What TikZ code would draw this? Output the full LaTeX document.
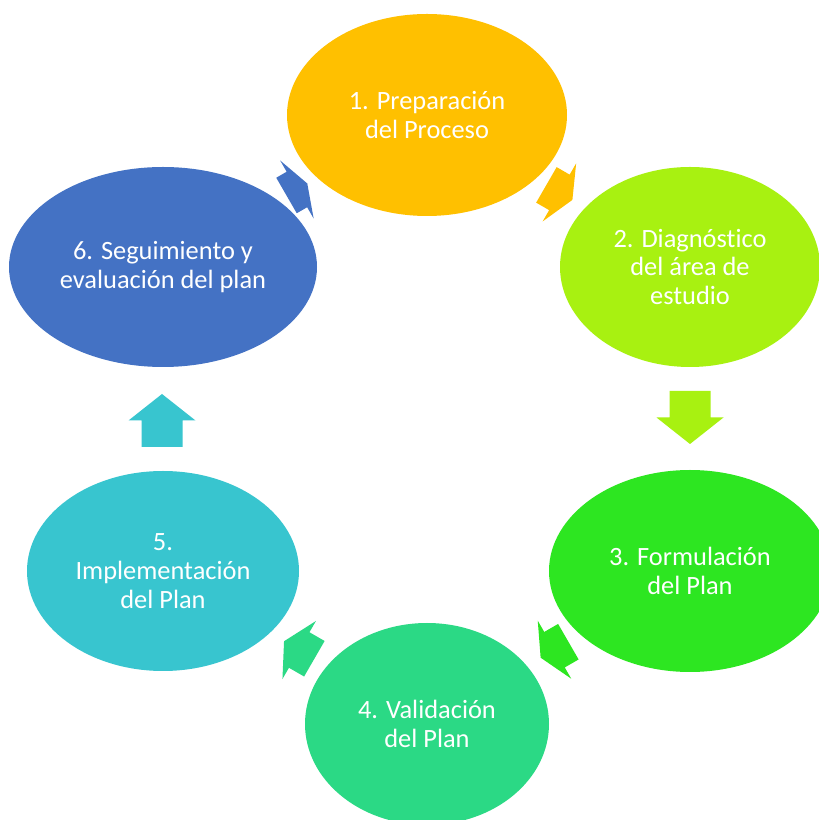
\documentclass[tikz,border=0pt]{standalone}
\usepackage{fontspec}
\setmainfont{Carlito}[Ligatures=NoCommon]
\usetikzlibrary{shapes.geometric}
\definecolor{cA}{HTML}{FFC000}
\definecolor{cB}{HTML}{A8F111}
\definecolor{cC}{HTML}{2DE621}
\definecolor{cD}{HTML}{2BD985}
\definecolor{cE}{HTML}{38C5CF}
\definecolor{cF}{HTML}{4472C4}
\tikzset{
  stage/.style={ellipse, inner sep=0pt, text=white, align=center,
    font=\fontsize{13.2}{14.4}\selectfont},
}
\newcommand\blockarr[5]{%
  \fill[#5, shift={(#1,#2)}, rotate=#3]
    (-#4/2,20.5) -- (0,20.5) -- (0,33.5) -- (#4/2,0) -- (0,-33.5)
    -- (0,-20.5) -- (-#4/2,-20.5) -- cycle;}
\begin{document}
\begin{tikzpicture}[x=0.5pt,y=0.5pt]
\useasboundingbox (0,0) rectangle (819,820);
\fill[white] (0,0) rectangle (819,820);
% ellipses (y = 820 - screen y); size in pt = radius in px
\node[stage, fill=cA, minimum width=140pt, minimum height=101pt] (e1) at (427,705) {1. Preparación\\del Proceso};
\node[stage, fill=cB, minimum width=130pt, minimum height=100pt] (e2) at (690,553) {2. Diagnóstico\\del área de\\estudio};
\node[stage, fill=cC, minimum width=141pt, minimum height=101pt] (e3) at (690,249) {3. Formulación\\del Plan};
\node[stage, fill=cD, minimum width=122pt, minimum height=101pt] (e4) at (427,96) {4. Validación\\del Plan};
\node[stage, fill=cE, minimum width=136pt, minimum height=100pt] (e5) at (163,249) {5.\\Implementación\\del Plan};
\node[stage, fill=cF, minimum width=154pt, minimum height=100pt] (e6) at (163,553) {6. Seguimiento y\\evaluación del plan};
% block arrows
\blockarr{559.4}{627.6}{-30}{30}{cA}
\blockarr{690}{402.5}{-90}{53}{cB}
\blockarr{554.5}{170.3}{210}{32}{cC}
\blockarr{299.2}{170}{150}{35}{cD}
\blockarr{162}{399.5}{90}{53}{cE}
\blockarr{296.9}{630.5}{30}{24}{cF}
\end{tikzpicture}
\end{document}
